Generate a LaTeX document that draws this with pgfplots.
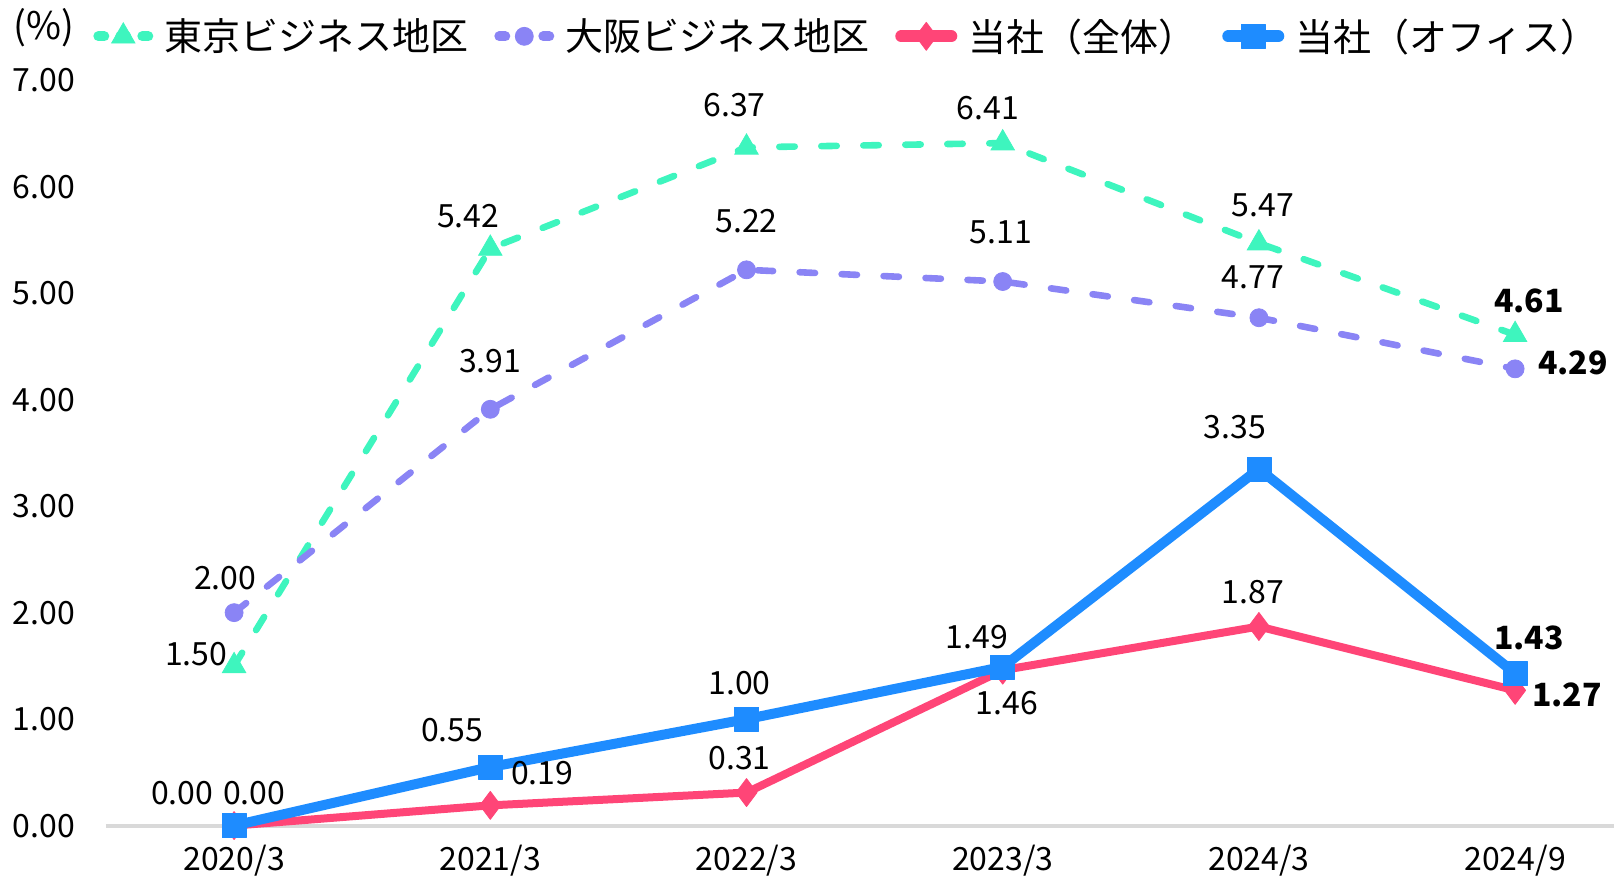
\documentclass[border=0pt]{standalone}
\usepackage{pgfplots}
\pgfplotsset{compat=1.18}
\usepackage{pgfplotstable}
\usepackage{fontspec}
\setmainfont{Noto Sans CJK JP}
\definecolor{tokyoc}{RGB}{62,245,190}
\definecolor{osakac}{RGB}{138,132,245}
\definecolor{totalc}{RGB}{255,69,119}
\definecolor{officec}{RGB}{30,140,255}
\definecolor{axisgray}{RGB}{217,217,217}

\pgfplotstableread{
x y dx dy b
0 1.50 -19 6 0
1 5.42 -11 16 0
2 6.37 -6 21 0
3 6.41 -7.5 17.5 0
4 5.47 2 19 0
5 4.61 7 17 1
}\tokyo
\pgfplotstableread{
x y dx dy b
0 2.00 -4.5 17.5 0
1 3.91 0 24 0
2 5.22 0 24.5 0
3 5.11 -1 24.5 0
4 4.77 -3 20 0
5 4.29 29 3 1
}\osaka
\pgfplotstableread{
x y dx dy b
0 0.00 -26 16.5 0
1 0.19 26 16 0
2 0.31 -3.5 17 0
3 1.46 2 -16.5 0
4 1.87 -3 17 0
5 1.27 26 -2.5 1
}\total
\pgfplotstableread{
x y dx dy b
0 0.00 10 16.5 0
1 0.55 -19 18.5 0
2 1.00 -3.5 18 0
3 1.49 -13 15 0
4 3.35 -12 21 0
5 1.43 7 17.5 1
}\office

\begin{document}
\begin{tikzpicture}[x=1pt,y=1pt]
\useasboundingbox (0,0) rectangle (807,441.5);
\begin{axis}[
  at={(53pt,28.7pt)}, anchor=south west,
  scale only axis, width=754pt, height=372.65pt,
  xmin=-0.5, xmax=5.386, ymin=0, ymax=7,
  clip=false,
  axis x line*=bottom, axis y line*=left,
  x axis line style={draw=axisgray, line width=2pt, -},
  y axis line style={draw=none},
  major tick length=0pt,
  xtick={0,...,5},
  xticklabels={2020/3,2021/3,2022/3,2023/3,2024/3,2024/9},
  ytick={0,1,...,7},
  /pgf/number format/assume math mode=true,
  yticklabel={\pgfmathprintnumber[fixed,fixed zerofill,precision=2]{\tick}},
  every tick label/.append style={font=\fontsize{16}{19}\selectfont, text=black},
  yticklabel style={xshift=-12pt},
  xticklabel style={yshift=-6pt},
  legend columns=4,
  legend style={draw=none, fill=none, at={(0.490,1.059)}, anchor=center,
     font=\fontsize{19}{22}\selectfont,
     /tikz/every even column/.append style={column sep=8pt}},
  legend cell align=left,
  legend image code/.code={\draw[mark repeat=2,mark phase=2,#1] plot coordinates {(0pt,0pt)(12.5pt,0pt)(25pt,0pt)};
     \path (-3pt,0pt) (28.5pt,0pt);},
  visualization depends on={\thisrow{dx}\as\dx},
  visualization depends on={\thisrow{dy}\as\dy},
  visualization depends on={\thisrow{b}\as\bflag},
  nodes near coords={\ifdim\bflag pt>0.5pt\bfseries\fi\pgfmathprintnumber[fixed,fixed zerofill,precision=2]{\pgfplotspointmeta}},
  every node near coord/.append style={anchor=center, xshift=\dx pt, yshift=\dy pt,
     font=\fontsize{16}{19}\selectfont, text=black},
  point meta=y,
]
\addplot[tokyoc, line width=3.3pt, line cap=round, dash pattern=on 7.7pt off 13.3pt,
   mark=triangle*, mark size=6.75pt, mark options={solid, line width=0.4pt},
   legend image post style={line width=5pt, dash pattern=on 3pt off 8pt}] table[x=x,y=y] {\tokyo};
\addlegendentry{東京ビジネス地区}
\addplot[osakac, line width=3.3pt, line cap=round, dash pattern=on 7.7pt off 13.3pt,
   mark=*, mark size=4.5pt, mark options={solid, line width=0.4pt},
   legend image post style={line width=5pt, dash pattern=on 3pt off 8pt}] table[x=x,y=y] {\osaka};
\addlegendentry{大阪ビジネス地区}
\addplot[totalc, line width=4pt, line cap=round, line join=round,
   mark=diamond*, mark size=7pt, mark options={solid, line width=0.4pt},
   legend image post style={line width=6pt}] table[x=x,y=y] {\total};
\addlegendentry{当社（全体）}
\addplot[officec, line width=5pt, line cap=round, line join=round,
   mark=square*, mark size=6pt, mark options={solid, line width=0.4pt},
   legend image post style={line width=6pt}] table[x=x,y=y] {\office};
\addlegendentry{当社（オフィス）}
\node[font=\fontsize{19}{22}\selectfont, anchor=center] at (rel axis cs:-0.041,1.0704) {(\%)};
\end{axis}
\end{tikzpicture}
\end{document}
